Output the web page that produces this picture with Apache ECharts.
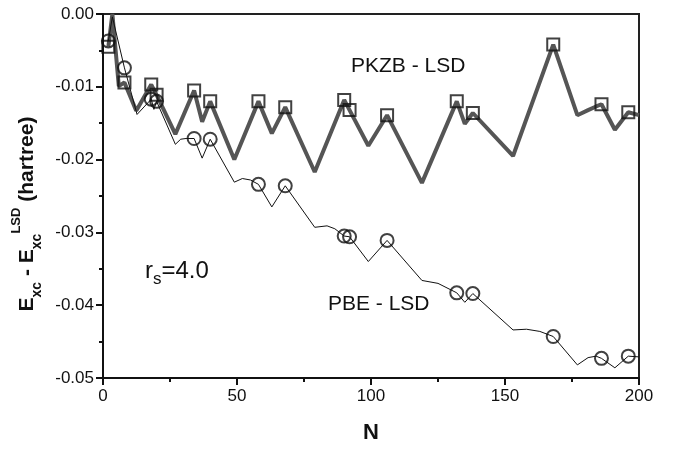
<!DOCTYPE html>
<html><head><meta charset="utf-8">
<script src="https://cdn.jsdelivr.net/npm/echarts@6/dist/echarts.min.js"></script>
<style>html,body{margin:0;padding:0;background:#fff}#c{width:673px;height:449px}</style>
</head><body><div id="c"></div>
<script>
// PKZB - LSD curve (thick gray line)
const pkzbLineN = [2, 3.5, 5.9, 8, 12.4, 18, 20, 27, 34, 37, 40, 49, 58, 63, 68, 79, 90, 92, 99, 106, 119, 132, 135, 138, 153, 168, 177, 181, 184, 186, 191, 196, 200];
const pkzbLineV = [-0.0045, 0.0000, -0.0099, -0.0094, -0.0133, -0.0097, -0.0111, -0.0165, -0.0105, -0.0148, -0.0120, -0.0200, -0.0120, -0.0164, -0.0128, -0.0217, -0.0118, -0.0132, -0.0181, -0.0139, -0.0232, -0.0120, -0.0151, -0.0136, -0.0195, -0.0042, -0.0139, -0.0132, -0.0127, -0.0124, -0.0159, -0.0135, -0.0139];
// PBE - LSD curve (thin black line)
const pbeLineN = [2, 3.5, 8, 12.7, 18, 19, 20, 27, 29, 31, 34, 37, 40, 49, 52, 55, 58, 63, 68, 79, 83.6, 86.5, 90, 92, 99, 106, 119, 125, 132, 135, 138, 153, 158, 163, 168, 177, 181, 184, 186, 191, 196, 200];
const pbeLineV = [-0.0037, -0.0004, -0.0074, -0.0138, -0.0117, -0.0131, -0.0120, -0.0179, -0.0172, -0.0171, -0.0171, -0.0198, -0.0172, -0.0231, -0.0226, -0.0228, -0.0234, -0.0265, -0.0236, -0.0293, -0.0291, -0.0295, -0.0305, -0.0306, -0.0340, -0.0311, -0.0366, -0.0370, -0.0383, -0.0396, -0.0384, -0.0434, -0.0433, -0.0436, -0.0443, -0.0482, -0.0472, -0.0470, -0.0473, -0.0486, -0.0470, -0.0471];
// closed-shell markers
const shellN = [2, 8, 18, 20, 34, 40, 58, 68, 90, 92, 106, 132, 138, 168, 186, 196];
const pkzbShellV = [-0.0045, -0.0094, -0.0097, -0.0111, -0.0105, -0.0120, -0.0120, -0.0128, -0.0118, -0.0132, -0.0139, -0.0120, -0.0136, -0.0042, -0.0124, -0.0135];
const pbeShellV = [-0.0037, -0.0074, -0.0117, -0.0120, -0.0171, -0.0172, -0.0234, -0.0236, -0.0305, -0.0306, -0.0311, -0.0383, -0.0384, -0.0443, -0.0473, -0.0470];
const xTicks = [0, 50, 100, 150, 200];
const yTicks = [-0.05, -0.04, -0.03, -0.02, -0.01, 0.00];

const zip = (a, b) => a.map((v, i) => [v, b[i]]);
const chart = echarts.init(document.getElementById('c'));
const FONT = '"Liberation Sans", Arial, sans-serif';
chart.setOption({
  animation: false,
  backgroundColor: '#fff',
  grid: {left: 103, right: 34, top: 14, bottom: 61, show: true, borderColor: '#222', borderWidth: 2, backgroundColor: 'transparent'},
  xAxis: {
    type: 'value', min: xTicks[0], max: xTicks[xTicks.length - 1], interval: xTicks[1] - xTicks[0],
    name: 'N', nameLocation: 'middle', nameGap: 44,
    nameTextStyle: {fontFamily: FONT, fontSize: 22, fontWeight: 'bold', color: '#111'},
    axisLine: {onZero: false, lineStyle: {color: '#111', width: 2}},
    axisTick: {inside: false, length: 7, lineStyle: {color: '#111', width: 2}},
    minorTick: {show: true, splitNumber: 2, length: 4, lineStyle: {color: '#111', width: 2}},
    splitLine: {show: false},
    axisLabel: {fontFamily: FONT, fontSize: 17, color: '#111', margin: 10}
  },
  yAxis: {
    type: 'value', min: yTicks[0], max: yTicks[yTicks.length - 1], interval: 0.01,
    axisLine: {onZero: false, lineStyle: {color: '#111', width: 2}},
    axisTick: {inside: false, length: 7, lineStyle: {color: '#111', width: 2}},
    minorTick: {show: true, splitNumber: 2, length: 4, lineStyle: {color: '#111', width: 2}},
    splitLine: {show: false},
    axisLabel: {fontFamily: FONT, fontSize: 17, color: '#111', margin: 9, formatter: v => (Math.abs(v) < 1e-9 ? 0 : v).toFixed(2)}
  },
  graphic: [
    {type: 'text', x: 27, y: 214, rotation: Math.PI / 2, z: 100,
     style: {text: '{e|E}{s|xc}{e| - E}{s|xc}{p|LSD}{e| (hartree)}', align: 'center', verticalAlign: 'middle', fill: '#111',
       rich: {
         e: {fontFamily: FONT, fontSize: 21, fontWeight: 'bold', lineHeight: 34, fill: '#111', verticalAlign: 'middle'},
         s: {fontFamily: FONT, fontSize: 14, fontWeight: 'bold', lineHeight: 14, fill: '#111', verticalAlign: 'bottom'},
         p: {fontFamily: FONT, fontSize: 13, fontWeight: 'bold', lineHeight: 24, fill: '#111', verticalAlign: 'top'}
       }}},
    {type: 'text', x: 145, y: 271, z: 100,
     style: {text: '{r|r}{s|s}{r|=4.0}', align: 'left', verticalAlign: 'middle', fill: '#111',
       rich: {
         r: {fontFamily: FONT, fontSize: 24, lineHeight: 34, fill: '#111', verticalAlign: 'middle'},
         s: {fontFamily: FONT, fontSize: 17, lineHeight: 17, fill: '#111', verticalAlign: 'bottom'}
       }}},
    {type: 'text', x: 351, y: 66, z: 100, style: {text: 'PKZB - LSD', font: '21px ' + FONT, fill: '#111', align: 'left', verticalAlign: 'middle'}},
    {type: 'text', x: 328, y: 304, z: 100, style: {text: 'PBE - LSD', font: '21px ' + FONT, fill: '#111', align: 'left', verticalAlign: 'middle'}}
  ],
  series: [
    {type: 'line', data: zip(pkzbLineN, pkzbLineV), showSymbol: false, symbol: 'none', lineStyle: {color: '#555', width: 4}, z: 2, silent: true},
    {type: 'line', data: zip(pbeLineN, pbeLineV), showSymbol: false, symbol: 'none', lineStyle: {color: '#111', width: 1}, z: 3, silent: true},
    {type: 'scatter', data: zip(shellN, pkzbShellV), symbol: 'rect', symbolSize: 12, itemStyle: {color: 'rgba(0,0,0,0)', borderColor: '#111', borderWidth: 2}, z: 4, silent: true},
    {type: 'scatter', data: zip(shellN, pbeShellV), symbol: 'circle', symbolSize: 13, itemStyle: {color: 'rgba(0,0,0,0)', borderColor: '#111', borderWidth: 2}, z: 4, silent: true}
  ]
});
</script>
</body></html>
